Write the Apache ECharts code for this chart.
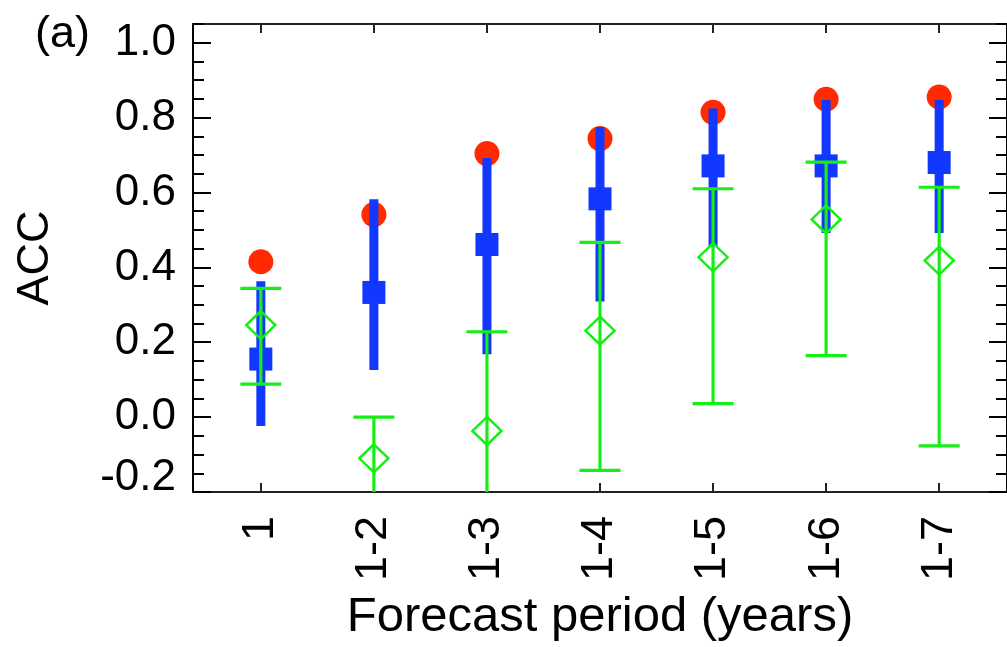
<!DOCTYPE html>
<html>
<head>
<meta charset="utf-8">
<script src="https://cdn.jsdelivr.net/npm/echarts@6/dist/echarts.min.js"></script>
<style>
html,body{margin:0;padding:0;background:#fff;}
#chart{width:1007px;height:647px;}
</style>
</head>
<body>
<div id="chart"></div>
<script>
// ---- data ----
const categories = ['1', '1-2', '1-3', '1-4', '1-5', '1-6', '1-7'];
const xPositions = [1, 2, 3, 4, 5, 6, 7];
const redDots   = [0.415, 0.541, 0.704, 0.744, 0.814, 0.849, 0.855];
const blueMid   = [0.155, 0.333, 0.461, 0.583, 0.671, 0.671, 0.680];
const blueLow   = [-0.024, 0.126, 0.168, 0.309, 0.456, 0.492, 0.492];
const blueHigh  = [0.363, 0.582, 0.692, 0.775, 0.824, 0.847, 0.847];
const greenMid  = [0.246, -0.110, -0.037, 0.231, 0.427, 0.528, 0.418];
const greenLow  = [0.088, -0.35, -0.35, -0.142, 0.036, 0.164, -0.077];
const greenHigh = [0.344, 0.000, 0.228, 0.467, 0.610, 0.681, 0.614];
const yMajorTicks = [-0.2, 0.0, 0.2, 0.4, 0.6, 0.8, 1.0];
const yMinorTicks = [-0.15, -0.1, -0.05, 0.05, 0.1, 0.15, 0.25, 0.3, 0.35, 0.45, 0.5, 0.55, 0.65, 0.7, 0.75, 0.85, 0.9, 0.95, 1.0, 1.05];
const xTickValues = [1, 2, 3, 4, 5, 6, 7];

const FONT = "'Liberation Sans', Arial, Helvetica, sans-serif";
const RED = '#ff2a00', BLUE = '#1237ff', GREEN = '#16ee16';
const AXC = '#222';

const chart = echarts.init(document.getElementById('chart'), null, {renderer: 'canvas'});

const yBase = {type: 'value', min: -0.2, max: 1.05, splitLine: {show: false}};
const xBase = {type: 'value', min: 0.4, max: 7.6, splitLine: {show: false}};

const option = {
  animation: false,
  backgroundColor: '#fff',
  grid: {left: 193, width: 820, top: 24, height: 468, containLabel: false},
  title: {
    text: '(a)', left: 30, top: 7,
    textStyle: {fontFamily: FONT, fontSize: 45, fontWeight: 'normal', color: '#000'}
  },
  xAxis: [
    Object.assign({}, xBase, {
      position: 'bottom',
      axisLine: {show: true, onZero: false, lineStyle: {color: AXC, width: 2}},
      axisTick: {show: true, inside: true, length: 9, customValues: xTickValues, lineStyle: {color: AXC, width: 2}},
      axisLabel: {
        show: true, customValues: xTickValues, rotate: 90, margin: 24,
        fontFamily: FONT, fontSize: 45, color: '#000',
        formatter: v => categories[Math.round(v) - 1]
      },
      name: 'Forecast period (years)', nameLocation: 'middle', nameGap: 101,
      nameTextStyle: {fontFamily: FONT, fontSize: 49, color: '#000'}
    }),
    Object.assign({}, xBase, {
      position: 'top',
      axisLine: {show: true, onZero: false, lineStyle: {color: AXC, width: 2}},
      axisTick: {show: true, inside: true, length: 9, customValues: xTickValues, lineStyle: {color: AXC, width: 2}},
      axisLabel: {show: false}
    })
  ],
  yAxis: [
    Object.assign({}, yBase, {
      position: 'left',
      axisLine: {show: true, onZero: false, lineStyle: {color: '#000', width: 2}},
      axisTick: {show: true, inside: true, length: 18, customValues: yMajorTicks, lineStyle: {color: '#000', width: 2}},
      axisLabel: {
        show: true, customValues: yMajorTicks, margin: 17,
        fontFamily: FONT, fontSize: 44, color: '#000',
        formatter: v => Math.abs(v + 0.2) < 1e-6 ? '{low|-0.2}' : v.toFixed(1),
        rich: {low: {fontFamily: FONT, fontSize: 44, color: '#000', padding: [0, 0, 28, 0]}}
      },
      name: 'ACC', nameLocation: 'middle', nameGap: 135, nameRotate: 90,
      nameTextStyle: {fontFamily: FONT, fontSize: 45, color: '#000'}
    }),
    Object.assign({}, yBase, {
      position: 'left',
      axisLine: {show: false, onZero: false},
      axisTick: {show: true, inside: true, length: 11, customValues: yMinorTicks, lineStyle: {color: '#000', width: 2}},
      axisLabel: {show: false}
    }),
    Object.assign({}, yBase, {
      position: 'right',
      axisLine: {show: true, onZero: false, lineStyle: {color: '#000', width: 2}},
      axisTick: {show: true, inside: true, length: 18, customValues: yMajorTicks, lineStyle: {color: '#000', width: 2}},
      axisLabel: {show: false}
    }),
    Object.assign({}, yBase, {
      position: 'right',
      axisLine: {show: false, onZero: false},
      axisTick: {show: true, inside: true, length: 11, customValues: yMinorTicks, lineStyle: {color: '#000', width: 2}},
      axisLabel: {show: false}
    })
  ],
  series: [
    {
      name: 'red', type: 'scatter', z: 2,
      symbol: 'circle', symbolSize: 25,
      itemStyle: {color: RED, opacity: 1},
      data: xPositions.map((x, i) => [x, redDots[i]])
    },
    {
      name: 'blueRange', type: 'custom', z: 3, clip: true,
      data: xPositions.map((x, i) => [x, blueLow[i], blueHigh[i]]),
      renderItem: function (params, api) {
        const x = api.value(0);
        const pHi = api.coord([x, api.value(2)]);
        const pLo = api.coord([x, api.value(1)]);
        return {
          type: 'rect',
          shape: {x: pHi[0] - 4.5, y: pHi[1], width: 9, height: pLo[1] - pHi[1]},
          style: {fill: BLUE}
        };
      }
    },
    {
      name: 'blueMid', type: 'scatter', z: 4,
      symbol: 'rect', symbolSize: 23,
      itemStyle: {color: BLUE, opacity: 1},
      data: xPositions.map((x, i) => [x, blueMid[i]])
    },
    {
      name: 'greenRange', type: 'custom', z: 5, clip: true,
      data: xPositions.map((x, i) => [x, greenLow[i], greenHigh[i]]),
      renderItem: function (params, api) {
        const x = api.value(0);
        const pHi = api.coord([x, api.value(2)]);
        const pLo = api.coord([x, api.value(1)]);
        const st = {stroke: GREEN, lineWidth: 3.2};
        const hw = 20.5;
        return {
          type: 'group',
          children: [
            {type: 'line', shape: {x1: pHi[0], y1: pHi[1], x2: pLo[0], y2: pLo[1]}, style: st},
            {type: 'line', shape: {x1: pHi[0] - hw, y1: pHi[1], x2: pHi[0] + hw, y2: pHi[1]}, style: st},
            {type: 'line', shape: {x1: pLo[0] - hw, y1: pLo[1], x2: pLo[0] + hw, y2: pLo[1]}, style: st}
          ]
        };
      }
    },
    {
      name: 'greenMid', type: 'scatter', z: 6,
      symbol: 'diamond', symbolSize: [29, 28],
      itemStyle: {color: 'rgba(0,0,0,0)', borderColor: GREEN, borderWidth: 2.5, opacity: 1},
      data: xPositions.map((x, i) => [x, greenMid[i]])
    }
  ]
};
chart.setOption(option);
</script>
</body>
</html>
